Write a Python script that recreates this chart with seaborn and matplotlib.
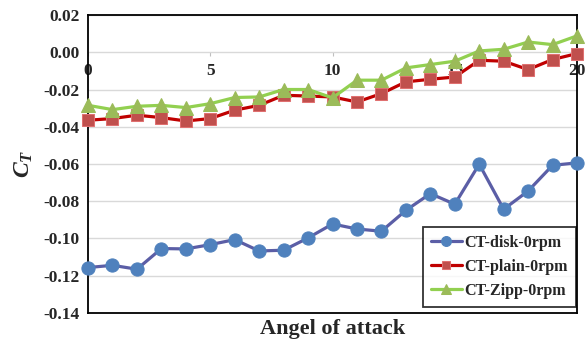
import matplotlib
matplotlib.use("Agg")
import matplotlib.pyplot as plt
import seaborn as sns
import pandas as pd
import numpy as np

# ---- data ----
angle = list(range(0, 21))
ct_disk = [-0.1156, -0.1144, -0.1165, -0.1054, -0.1056, -0.1033, -0.1006, -0.1067, -0.1063, -0.0997,
           -0.0922, -0.0949, -0.0961, -0.0849, -0.0759, -0.0816, -0.0601, -0.0843, -0.0745, -0.0607, -0.0594]
ct_plain = [-0.0365, -0.0356, -0.0338, -0.0351, -0.0369, -0.0356, -0.0311, -0.0285, -0.0231, -0.0235,
            -0.0240, -0.0267, -0.0222, -0.0159, -0.0145, -0.0133, -0.0043, -0.0048, -0.0093, -0.0039, -0.0007]
ct_zipp = [-0.0285, -0.0308, -0.0290, -0.0285, -0.0297, -0.0276, -0.0243, -0.0240, -0.0200, -0.0200,
           -0.0245, -0.0150, -0.0150, -0.0084, -0.0066, -0.0048, 0.0007, 0.0016, 0.0055, 0.0041, 0.0088]
series_names = ["CT-disk-0rpm", "CT-plain-0rpm", "CT-Zipp-0rpm"]
x_ticks = [0, 5, 10, 15, 20]
y_ticks = [0.02, 0.00, -0.02, -0.04, -0.06, -0.08, -0.10, -0.12, -0.14]

df = pd.DataFrame({
    "angle": angle * 3,
    "ct": ct_disk + ct_plain + ct_zipp,
    "series": [series_names[0]] * 21 + [series_names[1]] * 21 + [series_names[2]] * 21,
})

sns.set_style("white")
plt.rcParams["font.family"] = ["Liberation Serif", "DejaVu Serif"]
plt.rcParams["mathtext.fontset"] = "custom"
plt.rcParams["mathtext.it"] = "Liberation Serif:bold:italic"
plt.rcParams["mathtext.rm"] = "Liberation Serif:bold"

fig = plt.figure(figsize=(5.87, 3.45), dpi=100)
ax = fig.add_axes([0.150, 0.0928, 0.833, 0.8637])

styles = {
    series_names[0]: dict(color="#5B5EA6", marker="o", markerfacecolor="#4F81BD", markeredgecolor="#4F81BD", markersize=9.5),
    series_names[1]: dict(color="#C00000", marker="s", markerfacecolor="#C0504D", markeredgecolor="#E07070", markersize=8.5),
    series_names[2]: dict(color="#92D050", marker="^", markerfacecolor="#9BBB59", markeredgecolor="#9BBB59", markersize=9.5),
}
for name in series_names:
    sub = df[df["series"] == name]
    sns.lineplot(data=sub, x="angle", y="ct", ax=ax, label=name, linewidth=2.3,
                 clip_on=False, zorder=3, **styles[name])

ax.set_xlim(0, 20)
ax.set_ylim(-0.14, 0.02)
ax.set_yticks(y_ticks)
ax.set_yticklabels([f"{v:.2f}" for v in y_ticks], fontsize=12.5, fontweight="bold")
ax.set_xticks(x_ticks)
ax.tick_params(axis="x", bottom=False, labelbottom=False)
ax.tick_params(axis="y", length=0, pad=6)
ax.grid(axis="y", color="#D9D9D9", linewidth=1)
ax.set_axisbelow(True)
for sp in ax.spines.values():
    sp.set_visible(True)
    sp.set_color("black")
    sp.set_linewidth(1.3)

# x axis crossing at y = 0 (Excel style)
frac0 = (0 - (-0.14)) / (0.02 - (-0.14))
sec = ax.secondary_xaxis(frac0)
sec.xaxis.set_ticks_position("bottom")
sec.set_xticks(x_ticks)
sec.set_xticklabels([str(v) for v in x_ticks], fontsize=12.5, fontweight="bold")
for sp in sec.spines.values():
    sp.set_visible(False)
sec.tick_params(axis="x", length=3, color="#BFBFBF", pad=5, labelbottom=True, labeltop=False,
                bottom=True, top=False)

ax.set_xlabel("Angel of attack", fontsize=16, fontweight="bold", labelpad=4)
ax.set_ylabel("$C_T$", fontsize=17, labelpad=6)

leg = ax.legend(loc="lower right", bbox_to_anchor=(0.997, 0.02), borderaxespad=0.0,
                frameon=True, fancybox=False,
                prop={"size": 11.5, "weight": "bold"}, handlelength=2.0, handletextpad=0.1,
                borderpad=0.5, labelspacing=0.5, markerscale=0.75)
leg.get_frame().set_edgecolor("black")
leg.get_frame().set_linewidth(1.3)

fig.savefig("out.png", dpi=100)
